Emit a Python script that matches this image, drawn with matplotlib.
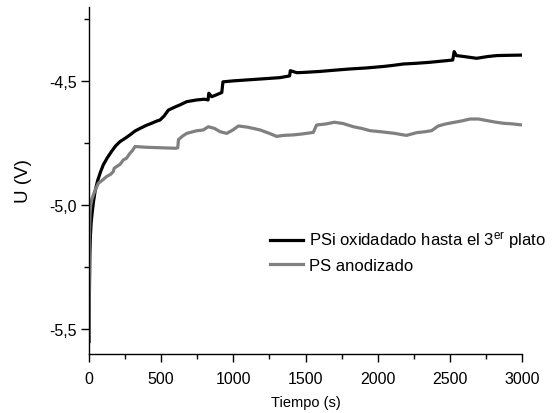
import matplotlib
matplotlib.use("Agg")
import matplotlib.pyplot as plt
from matplotlib.ticker import MultipleLocator, FuncFormatter

plt.rcParams["font.family"] = ["Liberation Sans", "DejaVu Sans"]
plt.rcParams["mathtext.fontset"] = "custom"
plt.rcParams["mathtext.rm"] = "Liberation Sans"
plt.rcParams["mathtext.it"] = "Liberation Sans"

# Open-circuit potential vs time
t_ox = [0, 3, 6, 10, 15, 22, 30, 42, 60, 80, 99, 125, 157, 185, 215, 250, 284,
        320, 353, 395, 434, 470, 492, 520, 550, 590, 630, 677, 746, 800, 825,
        830, 850, 880, 920, 928, 1000, 1100, 1200, 1323, 1390, 1395, 1440,
        1485, 1600, 1700, 1808, 1920, 2039, 2100, 2178, 2270, 2363, 2450, 2520,
        2530, 2545, 2600, 2686, 2760, 2825, 2900, 3000]
u_ox = [-5.55, -5.35, -5.2, -5.12, -5.07, -5.03, -4.99, -4.944, -4.90, -4.865,
        -4.837, -4.81, -4.782, -4.76, -4.743, -4.73, -4.716, -4.70, -4.69,
        -4.678, -4.669, -4.66, -4.656, -4.64, -4.616, -4.605, -4.595, -4.582,
        -4.575, -4.572, -4.575, -4.548, -4.562, -4.555, -4.545, -4.502, -4.498,
        -4.494, -4.49, -4.485, -4.478, -4.457, -4.465, -4.464, -4.46, -4.455,
        -4.450, -4.446, -4.44, -4.436, -4.43, -4.427, -4.423, -4.418, -4.414,
        -4.38, -4.396, -4.40, -4.407, -4.40, -4.396, -4.395, -4.394]

t_an = [0, 2, 4, 7, 12, 20, 35, 50, 65, 90, 122, 150, 168, 175, 191, 215, 238,
        260, 284, 300, 319, 400, 500, 600, 615, 620, 650, 677, 740, 792, 827,
        870, 908, 954, 1000, 1035, 1100, 1185, 1250, 1300, 1350, 1416, 1480,
        1554, 1577, 1640, 1700, 1760, 1831, 1890, 1947, 2000, 2063, 2120, 2178,
        2200, 2270, 2330, 2374, 2400, 2420, 2470, 2524, 2580, 2640, 2700, 2755,
        2810, 2871, 2940, 3000]
u_an = [-5.52, -5.3, -5.1, -5.03, -5.0, -4.975, -4.95, -4.93, -4.911, -4.90,
        -4.884, -4.875, -4.864, -4.85, -4.844, -4.835, -4.817, -4.81, -4.79,
        -4.78, -4.763, -4.766, -4.768, -4.77, -4.768, -4.735, -4.72, -4.71,
        -4.70, -4.696, -4.683, -4.69, -4.703, -4.71, -4.695, -4.68, -4.685,
        -4.696, -4.71, -4.722, -4.718, -4.716, -4.712, -4.706, -4.676, -4.672,
        -4.665, -4.67, -4.683, -4.69, -4.699, -4.702, -4.706, -4.71, -4.716,
        -4.718, -4.707, -4.703, -4.699, -4.688, -4.680, -4.672, -4.666, -4.66,
        -4.652, -4.652, -4.658, -4.664, -4.669, -4.672, -4.676]

label_ox = r"PSi oxidadado hasta el 3$^{\mathrm{er}}$ plato"
label_an = "PS anodizado"

fig = plt.figure(figsize=(5.54, 4.14), dpi=100)
ax = fig.add_axes([89 / 554, 1 - 355 / 414, (522 - 89) / 554, (355 - 8) / 414])

ax.plot(t_ox, u_ox, color="black", lw=2.3, label=label_ox, solid_joinstyle="round")
ax.plot(t_an, u_an, color="#808080", lw=2.3, label=label_an, solid_joinstyle="round")

ax.set_xlim(0, 3000)
ax.set_ylim(-5.6, -4.2)

for side in ("top", "right"):
    ax.spines[side].set_visible(False)
for side in ("left", "bottom"):
    ax.spines[side].set_linewidth(1.0)

ax.xaxis.set_major_locator(MultipleLocator(500))
ax.xaxis.set_minor_locator(MultipleLocator(250))
ax.yaxis.set_major_locator(MultipleLocator(0.5))
ax.yaxis.set_minor_locator(MultipleLocator(0.25))
ax.yaxis.set_major_formatter(FuncFormatter(lambda v, p: f"{v:.1f}".replace(".", ",")))
ax.tick_params(which="major", direction="out", length=6, width=1.0, labelsize=11.5)
ax.tick_params(axis="x", which="major", pad=6)
ax.tick_params(axis="y", which="major", pad=3)
ax.tick_params(which="minor", direction="out", length=3.5, width=1.0)

ax.set_xlabel("Tiempo (s)", fontsize=10.5, labelpad=7)
ax.set_ylabel("U (V)", fontsize=13.5, labelpad=12)

leg = ax.legend(loc="upper left", bbox_to_anchor=(270 / 554, 1 - 231 / 414),
                bbox_transform=fig.transFigure, frameon=False, fontsize=12,
                handlelength=2.0, handletextpad=0.35, borderpad=0,
                borderaxespad=0, labelspacing=0.45)

fig.savefig("out.png", dpi=100)
